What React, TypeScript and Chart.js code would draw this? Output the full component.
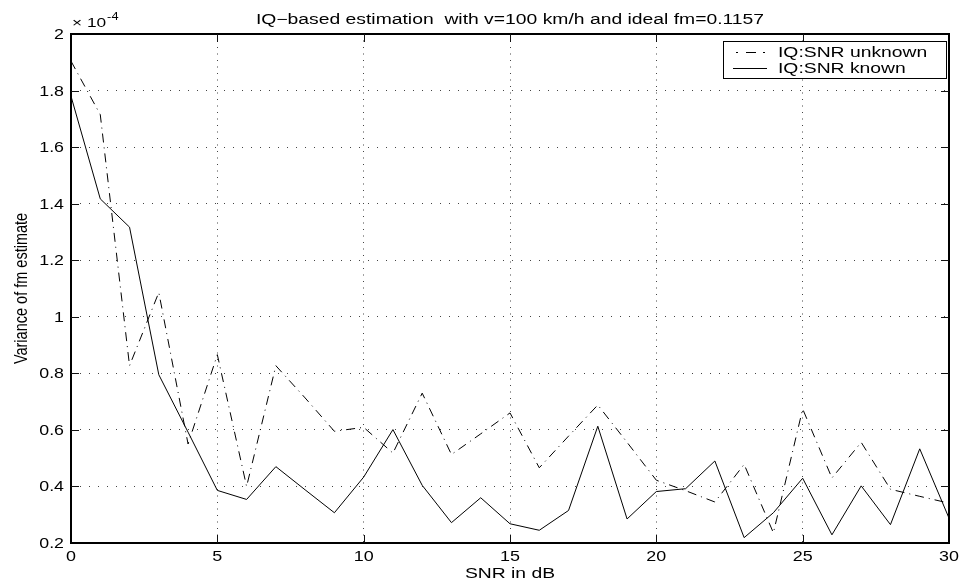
import React, { useEffect, useRef } from "react";
import { Chart, registerables } from "chart.js";

Chart.register(...registerables);

// ---- data (values in units of 1e-4) ----
const snrDb = [0, 1, 2, 3, 4, 5, 6, 7, 8, 9, 10, 11, 12, 13, 14, 15, 16, 17, 18, 19, 20, 21, 22, 23, 24, 25, 26, 27, 28, 29, 30];
const varSnrUnknown = [1.904, 1.715, 0.827, 1.086, 0.55, 0.866, 0.4, 0.827, 0.713, 0.595, 0.609, 0.518, 0.73, 0.513, 0.586, 0.66, 0.466, 0.578, 0.688, 0.556, 0.422, 0.385, 0.345, 0.478, 0.236, 0.674, 0.43, 0.556, 0.39, 0.365, 0.341];
const varSnrKnown = [1.78, 1.417, 1.317, 0.795, 0.592, 0.386, 0.354, 0.47, 0.388, 0.307, 0.433, 0.601, 0.404, 0.272, 0.36, 0.268, 0.245, 0.315, 0.613, 0.285, 0.382, 0.392, 0.49, 0.219, 0.307, 0.429, 0.229, 0.402, 0.265, 0.533, 0.288];
const xTicks = [0, 5, 10, 15, 20, 25, 30];
const yTicks = [0.2, 0.4, 0.6, 0.8, 1, 1.2, 1.4, 1.6, 1.8, 2];
const seriesNames = ["IQ:SNR unknown", "IQ:SNR known"];
const titleText = "IQ\u2212based estimation  with v=100 km/h and ideal fm=0.1157";
const xLabel = "SNR in dB";
const yLabel = "Variance of fm estimate";
const expBase = "\u00d7 10";
const expPow = "-4";

const FONT = '"Liberation Sans", Arial, Helvetica, sans-serif';
const DASHDOT = [9, 5, 1, 5];

function stretchText(
  ctx: CanvasRenderingContext2D,
  text: string,
  x: number,
  y: number,
  size: number,
  sx: number,
  align: "left" | "center" | "right"
) {
  ctx.save();
  ctx.font = `${size}px ${FONT}`;
  ctx.textBaseline = "alphabetic";
  ctx.textAlign = "left";
  ctx.fillStyle = "#000";
  const w = ctx.measureText(text).width * sx;
  let x0 = x;
  if (align === "center") x0 = x - w / 2;
  else if (align === "right") x0 = x - w;
  ctx.translate(x0, y);
  ctx.scale(sx, 1);
  ctx.fillText(text, 0, 0);
  ctx.restore();
}

const decorPlugin = {
  id: "matlabDecor",
  afterDraw(chart: any) {
    const ctx: CanvasRenderingContext2D = chart.ctx;
    const { left, right, top, bottom } = chart.chartArea;
    const xs = chart.scales.x;
    const ys = chart.scales.y;

    // box
    ctx.save();
    ctx.strokeStyle = "#000";
    ctx.lineWidth = 2;
    ctx.strokeRect(left, top, right - left, bottom - top);

    // inward ticks
    ctx.lineWidth = 1;
    ctx.strokeStyle = "#111";
    const tl = 8;
    ctx.beginPath();
    xTicks.forEach((v) => {
      const px = Math.round(xs.getPixelForValue(v)) + 0.5;
      if (v === xTicks[0] || v === xTicks[xTicks.length - 1]) return;
      ctx.moveTo(px, bottom);
      ctx.lineTo(px, bottom - tl);
      ctx.moveTo(px, top);
      ctx.lineTo(px, top + tl);
    });
    yTicks.forEach((v) => {
      const py = Math.round(ys.getPixelForValue(v)) + 0.5;
      if (v === yTicks[0] || v === yTicks[yTicks.length - 1]) return;
      ctx.moveTo(left, py);
      ctx.lineTo(left + tl, py);
      ctx.moveTo(right, py);
      ctx.lineTo(right - tl, py);
    });
    ctx.stroke();
    ctx.restore();

    // tick labels
    xTicks.forEach((v) => {
      const px = xs.getPixelForValue(v);
      stretchText(ctx, String(v), px, bottom + 18, 14, 1.28, "center");
    });
    yTicks.forEach((v) => {
      const py = ys.getPixelForValue(v);
      stretchText(ctx, String(Number(v.toFixed(1))), left - 7, py + 5, 14, 1.27, "right");
    });

    // exponent
    stretchText(ctx, expBase, left + 1, 27, 13.5, 1.28, "left");
    ctx.save();
    ctx.font = `13.5px ${FONT}`;
    const bw = ctx.measureText(expBase).width * 1.28;
    ctx.restore();
    stretchText(ctx, expPow, left + 1 + bw + 1, 20, 10, 1.28, "left");

    // title
    stretchText(ctx, titleText, (left + right) / 2, 24, 14, 1.38, "center");

    // x label
    stretchText(ctx, xLabel, (left + right) / 2, 578, 14, 1.38, "center");

    // y label (rotated, glyphs stretched horizontally on screen)
    ctx.save();
    ctx.font = `14.5px ${FONT}`;
    ctx.fillStyle = "#000";
    ctx.textAlign = "center";
    ctx.textBaseline = "alphabetic";
    ctx.translate(27, (top + bottom) / 2);
    ctx.rotate(-Math.PI / 2);
    ctx.scale(1, 1.3);
    ctx.fillText(yLabel, 0, 0);
    ctx.restore();

    // legend
    const lx0 = 723, lx1 = 946, ly0 = 41, ly1 = 78;
    ctx.save();
    ctx.fillStyle = "#fff";
    ctx.fillRect(lx0, ly0, lx1 - lx0, ly1 - ly0);
    ctx.strokeStyle = "#000";
    ctx.lineWidth = 1;
    ctx.strokeRect(lx0 + 0.5, ly0 + 0.5, lx1 - lx0, ly1 - ly0);
    // row 1 sample: dot - dash - dot
    const r1 = 52.5;
    ctx.beginPath();
    ctx.moveTo(736, r1); ctx.lineTo(738, r1);
    ctx.moveTo(746, r1); ctx.lineTo(756, r1);
    ctx.moveTo(763, r1); ctx.lineTo(765, r1);
    ctx.stroke();
    // row 2 sample: solid
    const r2 = 68.5;
    ctx.beginPath();
    ctx.moveTo(733, r2); ctx.lineTo(767, r2);
    ctx.stroke();
    ctx.restore();
    stretchText(ctx, seriesNames[0], 778, 57, 14, 1.38, "left");
    stretchText(ctx, seriesNames[1], 778, 73, 14, 1.38, "left");
  },
};

export default function App() {
  const ref = useRef<HTMLCanvasElement | null>(null);

  useEffect(() => {
    if (!ref.current) return;
    const chart = new Chart(ref.current, {
      type: "line",
      data: {
        datasets: [
          {
            label: seriesNames[0],
            data: snrDb.map((x, i) => ({ x, y: varSnrUnknown[i] })),
            borderColor: "#000",
            borderWidth: 1,
            borderDash: DASHDOT,
            pointRadius: 0,
            tension: 0,
            fill: false,
          },
          {
            label: seriesNames[1],
            data: snrDb.map((x, i) => ({ x, y: varSnrKnown[i] })),
            borderColor: "#000",
            borderWidth: 1,
            pointRadius: 0,
            tension: 0,
            fill: false,
          },
        ],
      },
      options: {
        animation: false,
        responsive: false,
        devicePixelRatio: 1,
        layout: { padding: { left: 0, right: 15, top: 34, bottom: 0 } },
        plugins: {
          legend: { display: false },
          title: { display: false },
          tooltip: { enabled: false },
        },
        scales: {
          x: {
            type: "linear",
            min: 0,
            max: 30,
            afterBuildTicks: (s: any) => {
              s.ticks = xTicks.map((v) => ({ value: v }));
            },
            afterFit: (s: any) => {
              s.height = 41;
            },
            ticks: { display: false },
            grid: { color: "#444", lineWidth: 1, drawTicks: false },
            border: { display: false, dash: [1, 5.5] },
          },
          y: {
            type: "linear",
            min: 0.2,
            max: 2,
            afterBuildTicks: (s: any) => {
              s.ticks = yTicks.map((v) => ({ value: v }));
            },
            afterFit: (s: any) => {
              s.width = 71;
            },
            ticks: { display: false },
            grid: { color: "#444", lineWidth: 1, drawTicks: false },
            border: { display: false, dash: [1, 8] },
          },
        },
      },
      plugins: [decorPlugin],
    } as any);
    return () => chart.destroy();
  }, []);

  return (
    <div style={{ position: "fixed", left: 0, top: 0, width: 964, height: 584, background: "#fff" }}>
      <canvas ref={ref} width={964} height={584} style={{ display: "block" }} />
    </div>
  );
}
